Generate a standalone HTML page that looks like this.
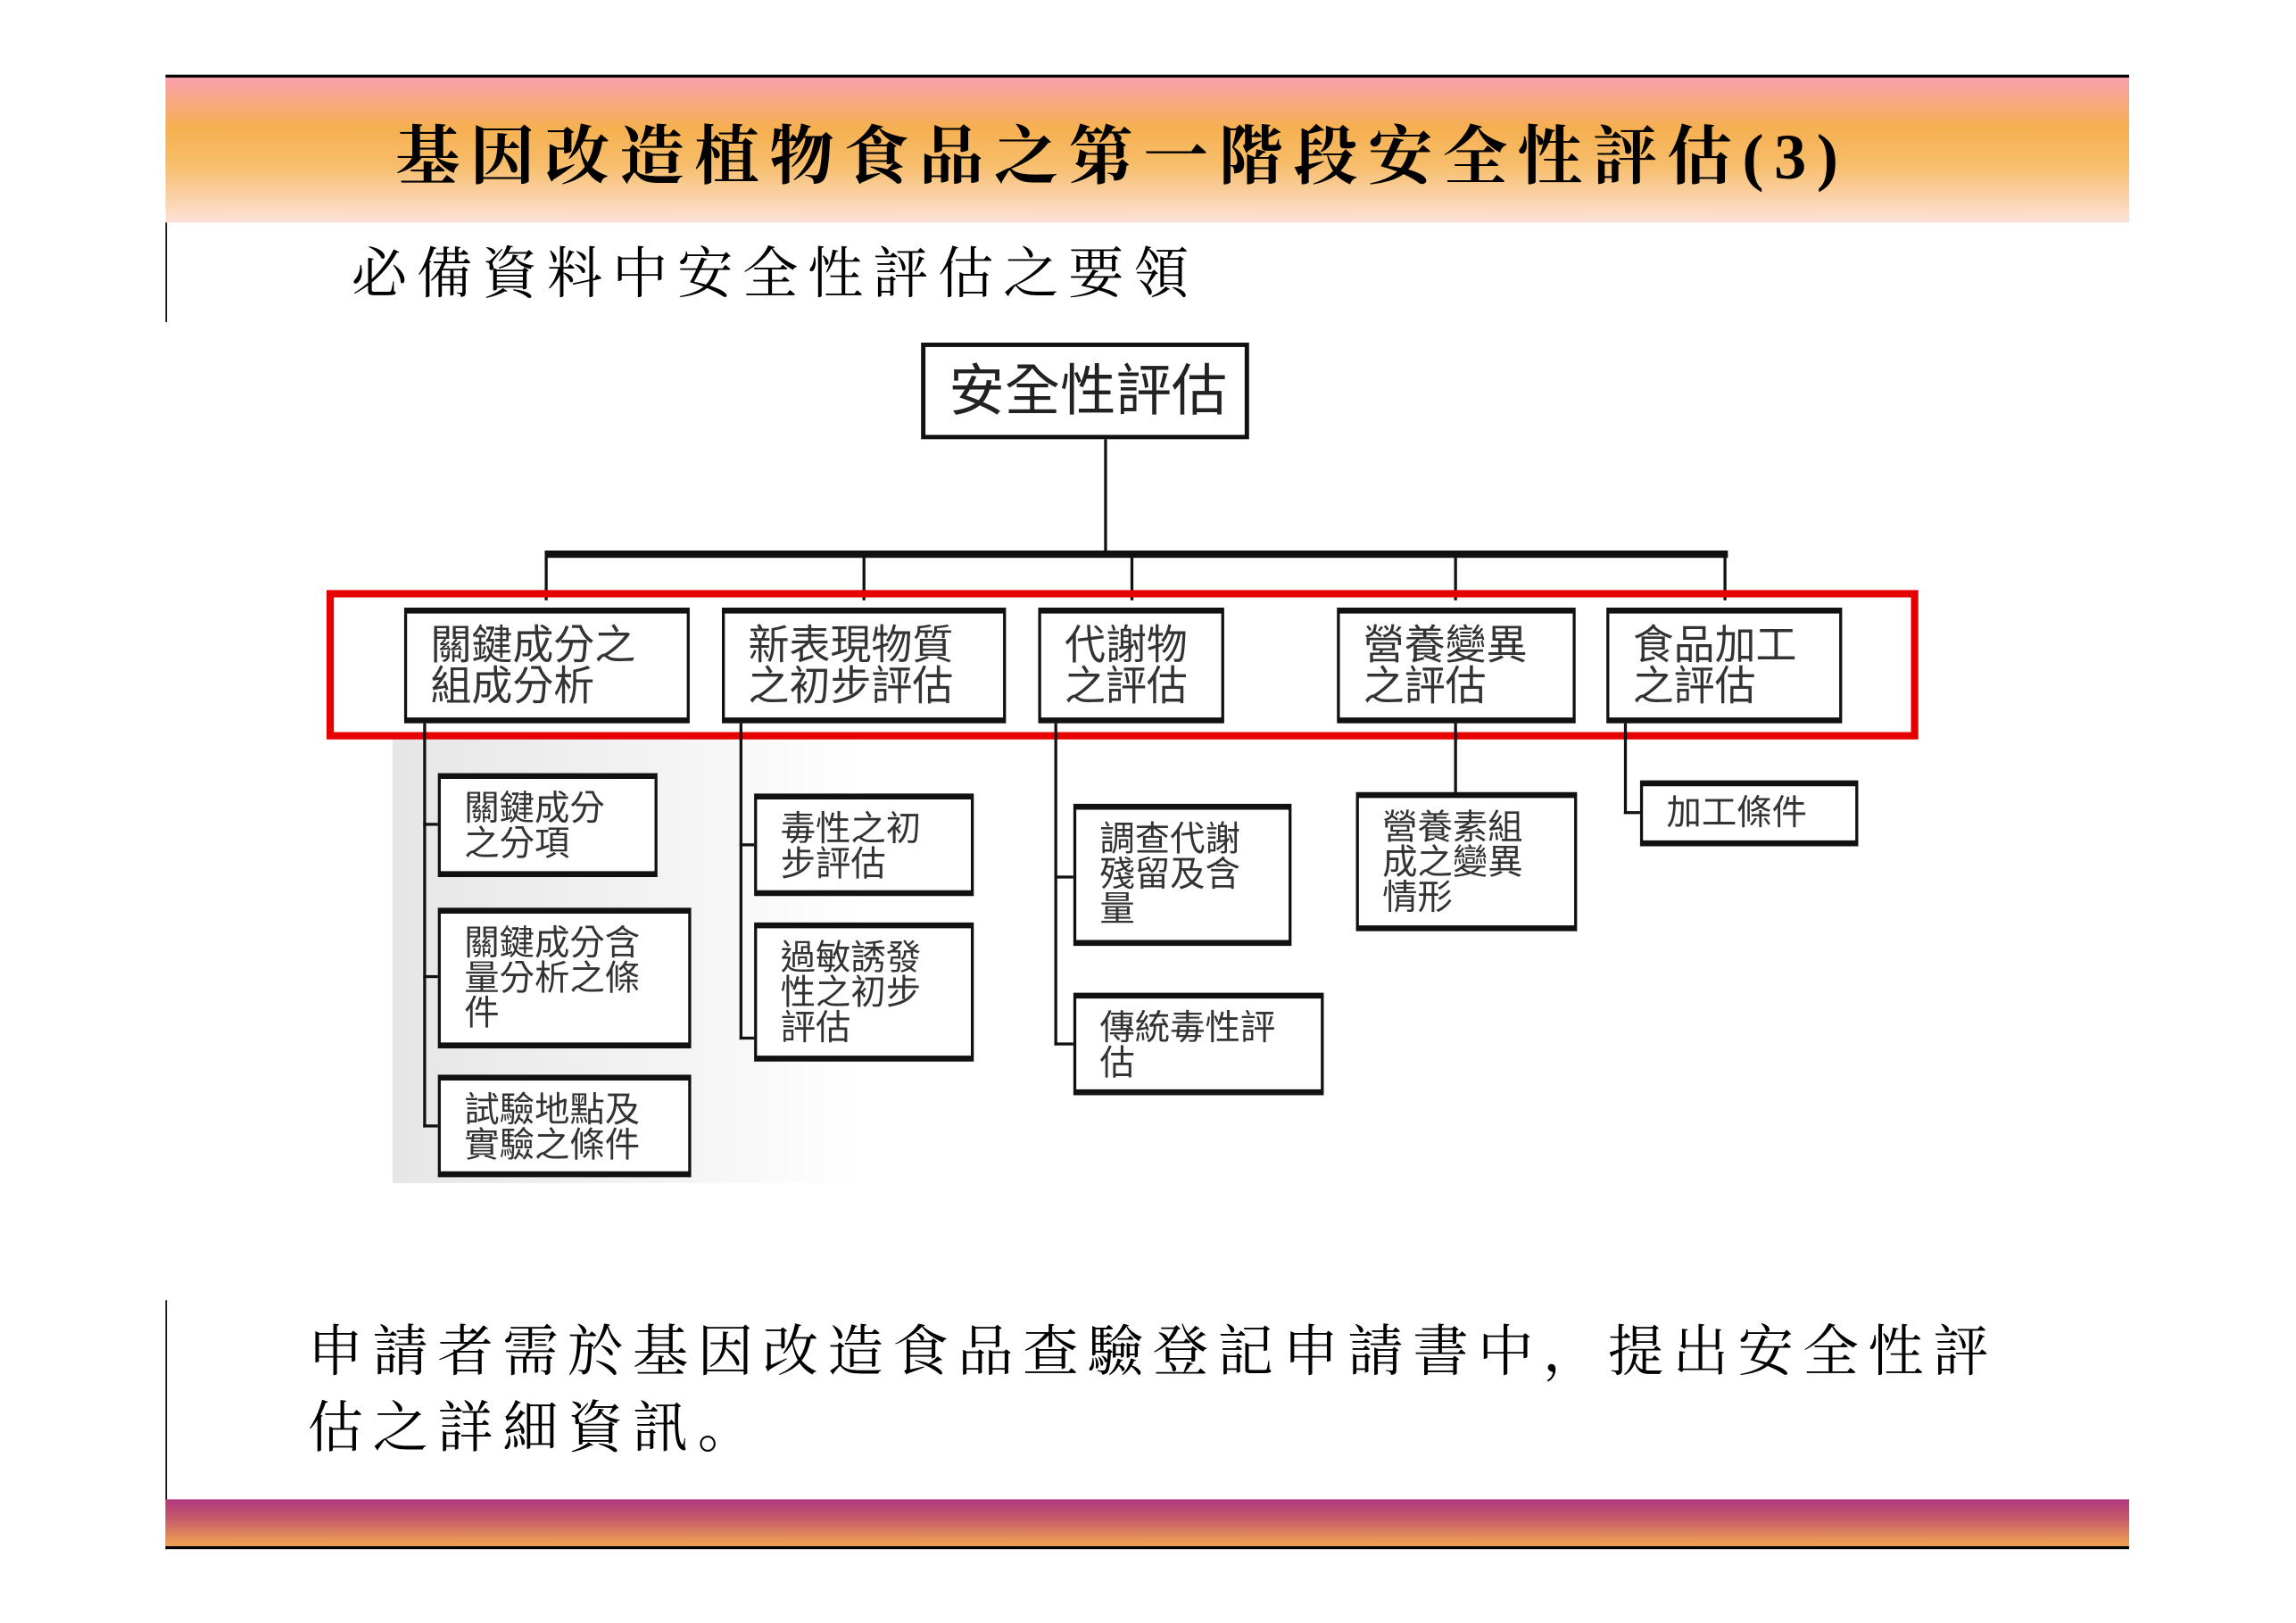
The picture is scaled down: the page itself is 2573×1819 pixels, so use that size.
<!DOCTYPE html>
<html><head><meta charset="utf-8"><style>
html,body{margin:0;padding:0;background:#fff;width:2573px;height:1819px;overflow:hidden}
#w{position:absolute;left:0;top:0;width:1568px;height:1108px;transform:scale(1.641);transform-origin:0 0}
.a{position:absolute}
.serif{font-family:"Liberation Serif","Noto Serif CJK SC",serif;color:#000;white-space:nowrap}
.b{position:absolute;background:#fff;border:2px solid #111;border-top-width:4px;border-bottom-width:4px;box-sizing:border-box;font-family:"Liberation Sans","Noto Sans CJK TC",sans-serif;color:#333;white-space:nowrap}
.l1{font-size:28px;line-height:28px;padding:8px 0 0 16px}
.l2{font-size:24px;line-height:24px;padding:9px 0 0 16px}
.v{position:absolute;background:#111;width:2px}
.h{position:absolute;background:#111;height:2px}
</style></head><body><div id="w">
<div class="a" style="left:113px;top:51px;width:1341px;height:2px;background:#000"></div>
<div class="a" style="left:113px;top:53px;width:1341px;height:99px;background:linear-gradient(#f9a0ac 0%,#f6b050 35%,#f7bd6a 60%,#fde2d8 100%)"></div>
<div class="a" style="left:113px;top:152px;width:1px;height:68px;background:#000"></div>
<div class="a serif" style="left:270px;top:80px;font-size:44px;line-height:56px;font-weight:bold;letter-spacing:7.1px">基因改造植物食品之第一階段安全性評估(3)</div>
<div class="a serif" style="left:240px;top:163px;font-size:38px;line-height:50px;letter-spacing:6.5px">必備資料中安全性評估之要領</div>

<div class="a" style="left:268px;top:505px;width:322px;height:303px;background:linear-gradient(90deg,#e6e6e6,#f4f4f4 60%,#fff)"></div>

<div class="b" style="left:629px;top:234px;width:224px;height:66px;border-width:3px;font-size:38px;line-height:38px;padding:12px 0 0 16px;color:#222">安全性評估</div>
<div class="v" style="left:754px;top:300px;height:80px"></div>
<div class="a" style="left:372px;top:376px;width:808px;height:5px;background:#111"></div>
<div class="v" style="left:372px;top:380px;height:30px"></div>
<div class="v" style="left:589px;top:380px;height:30px"></div>
<div class="v" style="left:772px;top:380px;height:30px"></div>
<div class="v" style="left:993px;top:380px;height:30px"></div>
<div class="v" style="left:1177px;top:380px;height:30px"></div>

<div class="b l1" style="left:276px;top:415px;width:195px;height:79px">關鍵成分之<br>組成分析</div>
<div class="b l1" style="left:493px;top:415px;width:194px;height:79px">新表現物質<br>之初步評估</div>
<div class="b l1" style="left:709px;top:415px;width:127px;height:79px">代謝物<br>之評估</div>
<div class="b l1" style="left:913px;top:415px;width:163px;height:79px">營養變異<br>之評估</div>
<div class="b l1" style="left:1097px;top:415px;width:161px;height:79px">食品加工<br>之評估</div>

<div class="a" style="left:223px;top:403px;width:1087px;height:102px;border:5px solid #e60000;box-sizing:border-box"></div>

<div class="v" style="left:289px;top:494px;height:276px"></div>
<div class="h" style="left:289px;top:562px;width:12px"></div>
<div class="h" style="left:289px;top:666px;width:12px"></div>
<div class="h" style="left:289px;top:768px;width:12px"></div>
<div class="b l2" style="left:299px;top:528px;width:150px;height:71px">關鍵成分<br>之分項</div>
<div class="b l2" style="left:299px;top:620px;width:173px;height:96px">關鍵成分含<br>量分析之條<br>件</div>
<div class="b l2" style="left:299px;top:734px;width:173px;height:70px">試驗地點及<br>實驗之條件</div>

<div class="v" style="left:505px;top:494px;height:216px"></div>
<div class="h" style="left:505px;top:576px;width:12px"></div>
<div class="h" style="left:505px;top:708px;width:12px"></div>
<div class="b l2" style="left:515px;top:542px;width:150px;height:70px">毒性之初<br>步評估</div>
<div class="b l2" style="left:515px;top:630px;width:150px;height:95px">過敏誘發<br>性之初步<br>評估</div>

<div class="v" style="left:720px;top:494px;height:220px"></div>
<div class="h" style="left:720px;top:598px;width:14px"></div>
<div class="h" style="left:720px;top:712px;width:14px"></div>
<div class="b l2" style="left:733px;top:549px;width:149px;height:97px">調查代謝<br>殘留及含<br>量</div>
<div class="b l2" style="left:733px;top:678px;width:171px;height:70px">傳統毒性評<br>估</div>

<div class="v" style="left:993px;top:494px;height:48px"></div>
<div class="b l2" style="left:926px;top:541px;width:151px;height:95px">營養素組<br>成之變異<br>情形</div>

<div class="v" style="left:1109px;top:494px;height:62px"></div>
<div class="h" style="left:1109px;top:554px;width:12px"></div>
<div class="b l2" style="left:1120px;top:533px;width:149px;height:45px;padding-top:7px">加工條件</div>

<div class="a" style="left:113px;top:888px;width:1px;height:170px;background:#000"></div>
<div class="a serif" style="left:210px;top:898px;font-size:38px;line-height:52px;letter-spacing:6.4px">申請者需於基因改造食品查驗登記申請書中，提出安全性評<br>估之詳細資訊。</div>
<div class="a" style="left:113px;top:1024px;width:1341px;height:32px;background:linear-gradient(#b0387e,#c45a6c 40%,#f2a452)"></div>
<div class="a" style="left:113px;top:1056px;width:1341px;height:2px;background:#000"></div>
</div></body></html>
